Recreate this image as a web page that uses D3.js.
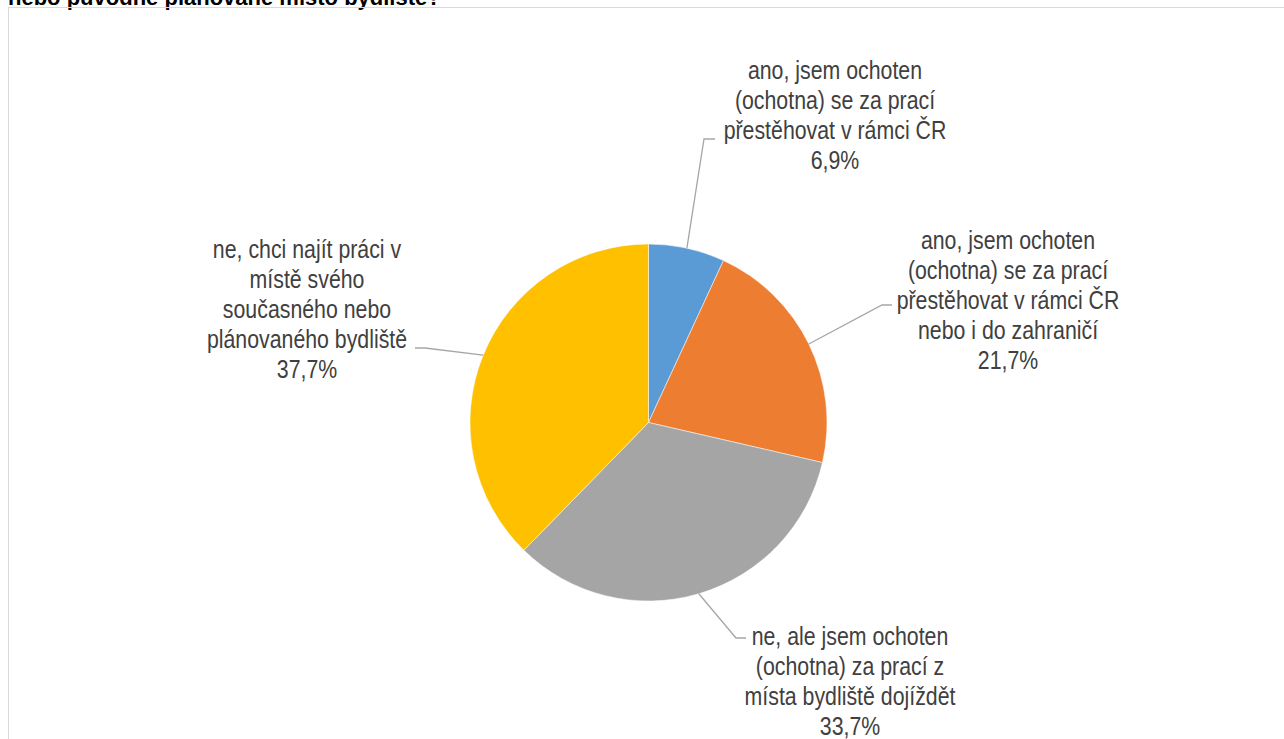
<!DOCTYPE html>
<meta charset="utf-8">
<head>
    <style type="text/css">
        body { margin: 0; background: #fff; }
        .title { font-family: "Liberation Sans", Arial, sans-serif; font-weight: bold; font-size: 22px; fill: #000; }
        .frame { fill: none; stroke: #d9d9d9; stroke-width: 1; }
        .slice { stroke: #fff; stroke-width: 0.5; }
        .leader { fill: none; stroke: #a6a6a6; stroke-width: 1.3; }
        .label { font-family: "Liberation Sans", Arial, sans-serif; font-size: 26px; fill: #404040; }
    </style>
</head>
<body>
    <script src="https://d3js.org/d3.v7.min.js"></script>
    <script>
        // data
        var categories = [
            ["ano, jsem ochoten", "(ochotna) se za prací", "přestěhovat v rámci ČR"],
            ["ano, jsem ochoten", "(ochotna) se za prací", "přestěhovat v rámci ČR", "nebo i do zahraničí"],
            ["ne, ale jsem ochoten", "(ochotna) za prací z", "místa bydliště dojíždět"],
            ["ne, chci najít práci v", "místě svého", "současného nebo", "plánovaného bydliště"]
        ];
        var values = [6.9, 21.7, 33.7, 37.7];
        var colors = ["#5b9bd5", "#ed7d31", "#a5a5a5", "#ffc000"];
        var titleText = "nebo původně plánované místo bydliště?";

        // label placement (like Excel's manually dragged labels)
        var labelPos = [
            { elbow: [704, 139], end: [715, 139], x: 835, y: 79 },
            { elbow: [882, 305], end: [892, 305], x: 1008, y: 249 },
            { elbow: [736, 638], end: [746, 638], x: 850, y: 645 },
            { elbow: [425, 348], end: [415, 348], x: 307, y: 258 }
        ];

        var width = 1284, height = 739;
        var cx = 648.5, cy = 422.5, radius = 178.5;
        var lineH = 30;
        var narrow = 0.82; // no Arial Narrow here, squeeze Liberation Sans instead

        var svg = d3.select("body").append("svg")
            .attr("width", width)
            .attr("height", height);

        svg.append("text")
            .attr("class", "title")
            .attr("x", 8)
            .attr("y", 5)
            .text(titleText);

        svg.append("rect")
            .attr("class", "frame")
            .attr("x", 8.5)
            .attr("y", 7.5)
            .attr("width", width + 10)
            .attr("height", height + 10);

        var pie = d3.pie().sort(null).value(function (d) { return d; });
        var arcs = pie(values);
        var arc = d3.arc().innerRadius(0).outerRadius(radius);

        var g = svg.append("g")
            .attr("transform", "translate(" + cx + "," + cy + ")");

        g.selectAll(".slice")
            .data(arcs)
            .enter().append("path")
            .attr("class", "slice")
            .attr("d", arc)
            .attr("fill", function (d, i) { return colors[i]; });

        // leader lines start at the mid angle of each slice
        svg.selectAll(".leader")
            .data(arcs)
            .enter().append("polyline")
            .attr("class", "leader")
            .attr("points", function (d, i) {
                var a = (d.startAngle + d.endAngle) / 2;
                var p = [cx + Math.sin(a) * radius, cy - Math.cos(a) * radius];
                var L = labelPos[i];
                return [p, L.elbow, L.end].map(function (q) { return q.join(","); }).join(" ");
            });

        var fmt = function (v) { return d3.format(".1f")(v).replace(".", ",") + "%"; };

        var labels = svg.selectAll(".label")
            .data(arcs)
            .enter().append("text")
            .attr("class", "label")
            .attr("text-anchor", "middle")
            .attr("transform", function (d, i) {
                return "translate(" + labelPos[i].x + "," + labelPos[i].y + ") scale(" + narrow + ",1)";
            });

        labels.each(function (d, i) {
            var lines = categories[i].concat([fmt(values[i])]);
            var t = d3.select(this);
            lines.forEach(function (s, k) {
                t.append("tspan")
                    .attr("x", 0)
                    .attr("dy", k === 0 ? 0 : lineH)
                    .text(s);
            });
        });
    </script>
</body>
